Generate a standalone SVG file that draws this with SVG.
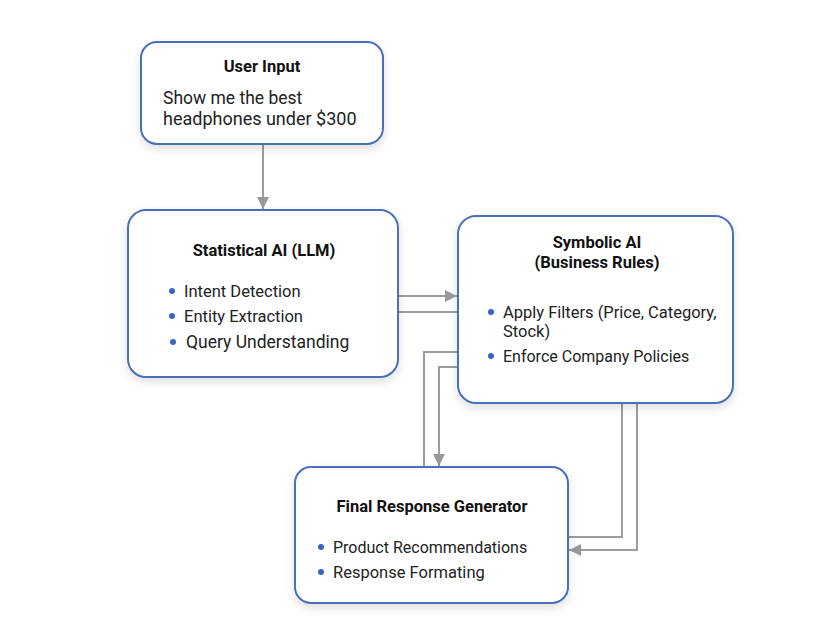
<svg xmlns="http://www.w3.org/2000/svg" width="823" height="635" viewBox="0 0 823 635">
<defs>
<filter id="sh" x="-20%" y="-20%" width="140%" height="150%">
<feDropShadow dx="0" dy="4" stdDeviation="5" flood-color="#000" flood-opacity="0.12"/>
</filter>
<marker id="ah" viewBox="0 0 12 12" refX="12" refY="6" markerWidth="12" markerHeight="12" markerUnits="userSpaceOnUse" orient="auto">
<path d="M0,0 L12,6 L0,12 z" fill="#999"/>
</marker>
<style>
.box{fill:#fff;stroke:#4a6fb8;stroke-width:2;filter:url(#sh)}
.t{font-family:Roboto,"Liberation Sans",sans-serif;font-weight:bold;font-size:16.5px;fill:#111;text-anchor:middle}
.b{font-family:Roboto,"Liberation Sans",sans-serif;font-size:16.5px;fill:#222}
.dot{fill:#3a63c2}
.c{fill:none;stroke:#9c9c9c;stroke-width:2}
</style>
</defs>
<rect width="823" height="635" fill="#fff"/>
<g id="connectors">
<line class="c" x1="263" y1="144" x2="263" y2="209" marker-end="url(#ah)"/>
<line class="c" x1="398" y1="296" x2="457" y2="296" marker-end="url(#ah)"/>
<line class="c" x1="398" y1="312" x2="458" y2="312"/>
<polyline class="c" points="458,352 424,352 424,467"/>
<polyline class="c" points="458,367 439,367 439,466" marker-end="url(#ah)"/>
<polyline class="c" points="622,403 622,537 568,537"/>
<polyline class="c" points="637,403 637,550 569,550" marker-end="url(#ah)"/>
</g>
<g id="user-input">
<rect class="box" x="141" y="42" width="242" height="102" rx="16"/>
<text class="t" x="262" y="72">User Input</text>
<text class="b" x="163" y="104" style="font-size:17.5px">Show me the best</text>
<text class="b" x="163" y="125" style="font-size:18px">headphones under $300</text>
</g>
<g id="statistical-ai">
<rect class="box" x="128" y="210" width="270" height="167" rx="18"/>
<text class="t" x="264" y="256">Statistical AI (LLM)</text>
<circle class="dot" cx="172" cy="291" r="3"/>
<text class="b" x="184" y="297">Intent Detection</text>
<circle class="dot" cx="172" cy="316" r="3"/>
<text class="b" x="184" y="322">Entity Extraction</text>
<circle class="dot" cx="173" cy="342" r="3"/>
<text class="b" x="186" y="348" style="font-size:17.5px">Query Understanding</text>
</g>
<g id="symbolic-ai">
<rect class="box" x="458" y="216" width="275" height="187" rx="18"/>
<text class="t" x="597" y="248">Symbolic AI</text>
<text class="t" x="597" y="268">(Business Rules)</text>
<circle class="dot" cx="491" cy="312" r="3"/>
<text class="b" x="503" y="318">Apply Filters (Price, Category,</text>
<text class="b" x="503" y="337">Stock)</text>
<circle class="dot" cx="491" cy="356" r="3"/>
<text class="b" x="503" y="362" style="font-size:16px">Enforce Company Policies</text>
</g>
<g id="final-response">
<rect class="box" x="295" y="467" width="273" height="136" rx="16"/>
<text class="t" x="432" y="512">Final Response Generator</text>
<circle class="dot" cx="321" cy="547" r="3"/>
<text class="b" x="333" y="553" style="font-size:16px">Product Recommendations</text>
<circle class="dot" cx="321" cy="572" r="3"/>
<text class="b" x="333" y="578">Response Formating</text>
</g>
</svg>
